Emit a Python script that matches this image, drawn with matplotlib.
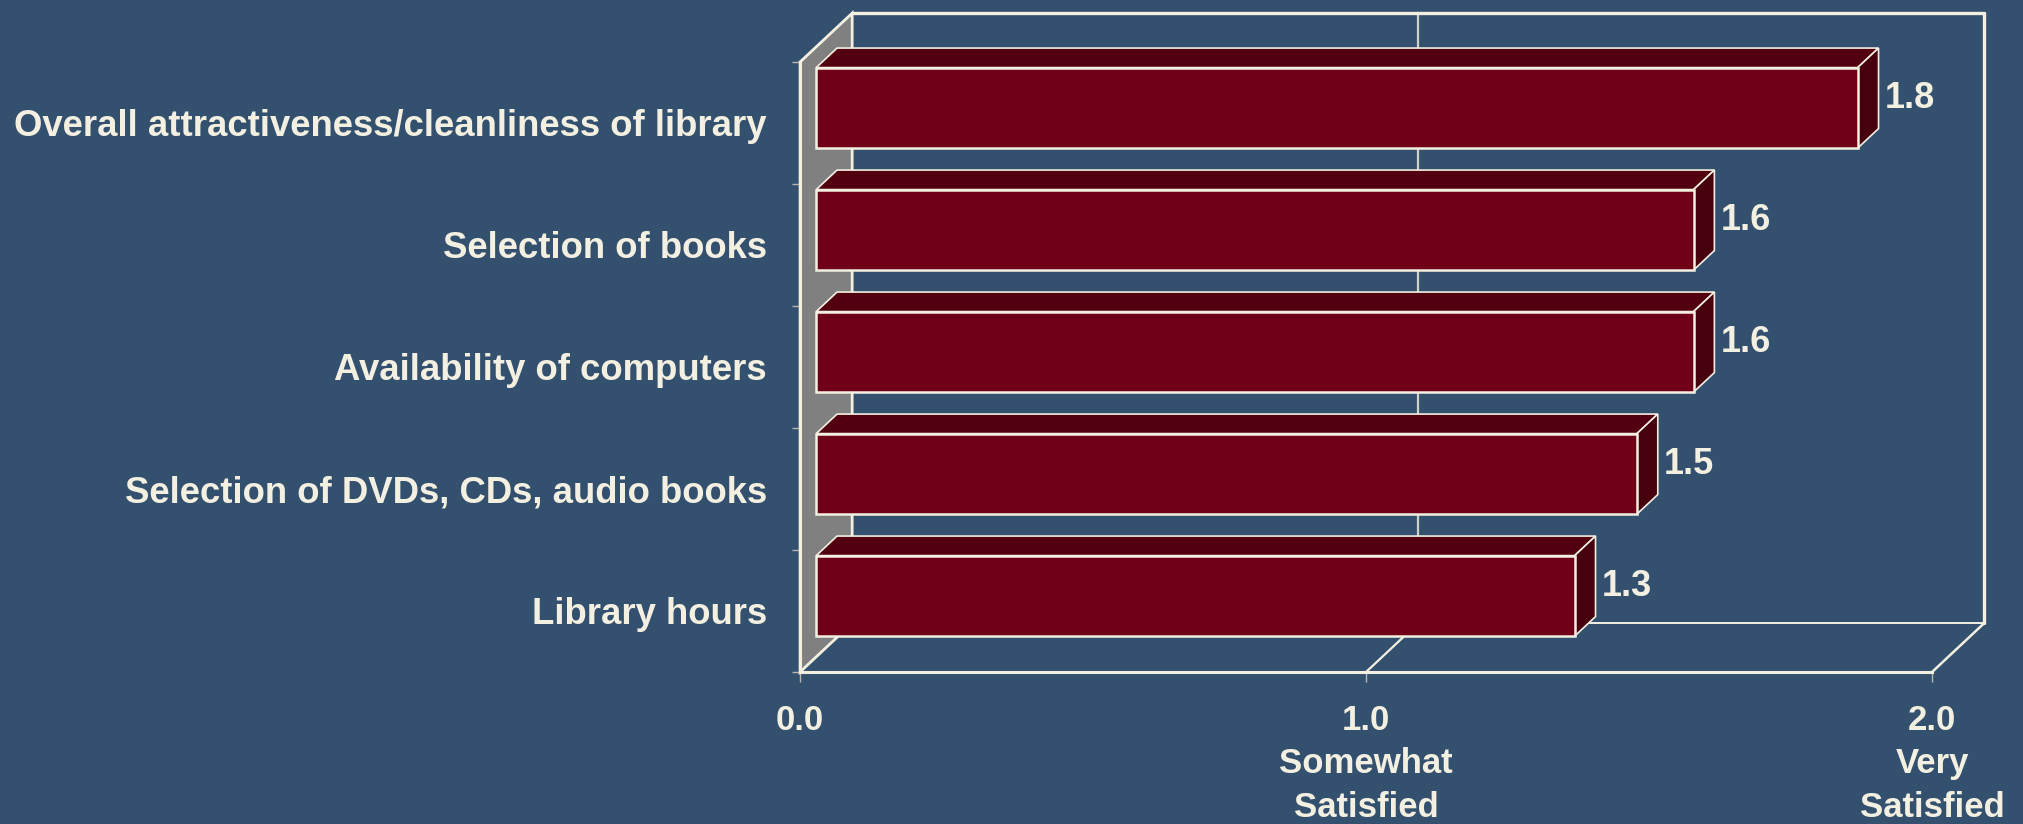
import numpy as np
import matplotlib.pyplot as plt
from matplotlib.patches import Polygon

plt.rcParams['font.family'] = ['Liberation Sans', 'DejaVu Sans']
plt.rcParams['font.weight'] = 'bold'

# data
categories = ['Overall attractiveness/cleanliness of library',
              'Selection of books',
              'Availability of computers',
              'Selection of DVDs, CDs, audio books',
              'Library hours']
scores = [1.84, 1.55, 1.55, 1.45, 1.34]
score_labels = ['1.8', '1.6', '1.6', '1.5', '1.3']
x_ticks = [0, 1, 2]
x_ticklabels = ['0.0', '1.0\nSomewhat\nSatisfied', '2.0\nVery\nSatisfied']

bg = '#34506f'
cream = '#f3f0e2'
front_col = '#6f0018'
top_col = '#52000f'
side_col = '#46000e'
wall_col = '#808080'

# oblique depth of the fake 3d box, in data units
DX = 0.092
DY = 0.40
BAR_H = 0.66
b0, b1 = 0.31, 0.71   # bar sits between these depth fractions

fig = plt.figure(figsize=(20.24, 8.24), dpi=100, facecolor=bg)
ax = fig.add_axes([0.3953, 0.1845, 0.5593, 0.7403])
ax.set_facecolor('none')
n = len(categories)
xmax = x_ticks[-1]
ax.set_xlim(0, xmax)
ax.set_ylim(n - 0.5, -0.5)

# side wall (grey)
top, bot = -0.5, n - 0.5
wall = Polygon([(0, bot), (0, top), (DX, top - DY), (DX, bot - DY)],
               closed=True, facecolor=wall_col, edgecolor=cream, lw=2,
               clip_on=False, zorder=1)
ax.add_patch(wall)

# back wall and floor outlines
kw = dict(color=cream, clip_on=False, zorder=1.5, solid_capstyle='round')
ax.plot([DX, xmax + DX], [top - DY, top - DY], lw=2.4, **kw)
ax.plot([xmax + DX, xmax + DX], [top - DY, bot - DY], lw=2.4, **kw)
ax.plot([DX, xmax + DX], [bot - DY, bot - DY], lw=1.4, **kw)
ax.plot([xmax, xmax + DX], [bot, bot - DY], lw=1.8, **kw)
for gx in x_ticks[1:-1]:
    ax.plot([gx + DX, gx + DX], [top - DY, bot - DY], color='#d0d0c6', lw=1.6,
            clip_on=False, zorder=1.2)
    ax.plot([gx, gx + DX], [bot, bot - DY], lw=1.6, **kw)

# bars: front face, top face, right face
bx, by = b0 * DX, b0 * DY
ddx, ddy = (b1 - b0) * DX, (b1 - b0) * DY
ys = np.arange(n) - by
ax.barh(ys, scores, left=bx, height=BAR_H, color=front_col,
        edgecolor=cream, linewidth=1.8, clip_on=False, zorder=4)
for y, v, lab in zip(ys, scores, score_labels):
    yt, yb = y - BAR_H / 2, y + BAR_H / 2
    x1 = bx + v
    topf = Polygon([(bx, yt), (x1, yt), (x1 + ddx, yt - ddy), (bx + ddx, yt - ddy)],
                   closed=True, facecolor=top_col, edgecolor=cream, lw=1.2,
                   clip_on=False, zorder=3)
    side = Polygon([(x1, yt), (x1, yb), (x1 + ddx, yb - ddy), (x1 + ddx, yt - ddy)],
                   closed=True, facecolor=side_col, edgecolor=cream, lw=1.2,
                   clip_on=False, zorder=3)
    ax.add_patch(topf)
    ax.add_patch(side)
    ax.text(x1 + ddx + 0.011, y - ddy / 2, lab, color=cream,
            fontsize=26, fontweight='bold', va='center', ha='left', zorder=5)

# axes: front edges
for s in ['top', 'right']:
    ax.spines[s].set_visible(False)
for s in ['bottom', 'left']:
    ax.spines[s].set_color(cream)
    ax.spines[s].set_linewidth(2.2)
    ax.spines[s].set_zorder(2)

ax.set_yticks(np.arange(n))
ax.set_yticklabels(categories)
ax.set_yticks(np.arange(n + 1) - 0.5, minor=True)
ax.tick_params(axis='y', which='major', length=0, pad=24, labelsize=26.3,
               labelcolor=cream)
ax.tick_params(axis='y', which='minor', length=6, width=1, color='#b8b8b0')

ax.set_xticks(x_ticks)
ax.set_xticklabels(x_ticklabels, linespacing=1.4)
ax.tick_params(axis='x', length=7, width=1, color='#b8b8b0', pad=16,
               labelsize=25, labelcolor=cream)

fig.savefig('out.png', dpi=100, facecolor=bg)
